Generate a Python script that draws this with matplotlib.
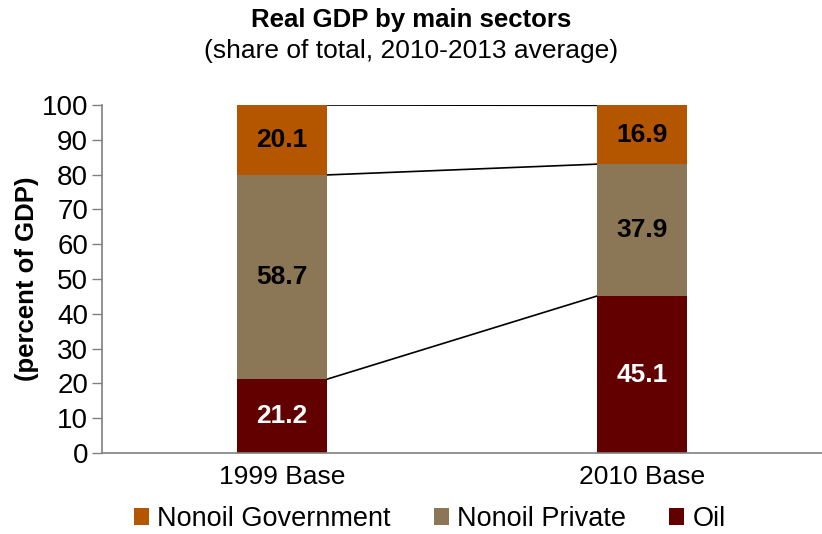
import matplotlib
matplotlib.use("Agg")
from matplotlib import pyplot as plt
import numpy as np

plt.rcParams["font.family"] = ["Liberation Sans", "DejaVu Sans"]

categories = ["1999 Base", "2010 Base"]
oil = [21.2, 45.1]
nonoil_private = [58.7, 37.9]
nonoil_government = [20.1, 16.9]

series = [
    ("Oil", oil, "#620000", "white"),
    ("Nonoil Private", nonoil_private, "#8B7655", "black"),
    ("Nonoil Government", nonoil_government, "#B45500", "black"),
]

fig = plt.figure(figsize=(8.22, 5.34), dpi=100)
ax = fig.add_axes([0.124, 0.1517, 0.876, 0.6517])

x = np.arange(len(categories))
width = 0.25
bottom = np.zeros(len(categories))
handles = {}
tops = []
for name, vals, color, txt in series:
    vals = np.array(vals)
    bars = ax.bar(x, vals, width, bottom=bottom, color=color, label=name, zorder=2)
    handles[name] = bars
    for xi, b, v in zip(x, bottom, vals):
        ax.text(xi, b + v / 2, f"{v:.1f}", ha="center", va="center",
                fontsize=19, fontweight="bold", color=txt, zorder=3)
    bottom = bottom + vals
    tops.append(bottom.copy())

# series lines joining segment tops between the two bars
for t in tops:
    ax.plot([x[0] + width / 2, x[1] - width / 2], [t[0], t[1]],
            color="black", lw=1.2, zorder=1)

ax.set_xlim(-0.5, 1.5)
ax.set_ylim(0, 100)
ax.set_yticks(range(0, 101, 10))
ax.set_xticks(x)
ax.set_xticklabels(categories)
ax.tick_params(axis="y", labelsize=20, length=7, width=1, color="#808080", pad=3)
ax.tick_params(axis="x", labelsize=19, length=0, pad=9)
for side in ["top", "right"]:
    ax.spines[side].set_visible(False)
for side in ["left", "bottom"]:
    ax.spines[side].set_color("#808080")
    ax.spines[side].set_linewidth(1.2)

ax.set_ylabel("(percent of GDP)", fontsize=18.5, fontweight="bold", labelpad=2)

fig.text(0.5, 0.962, "Real GDP by main sectors", ha="center", va="center",
         fontsize=18.5, fontweight="bold")
fig.text(0.5, 0.905, "(share of total, 2010-2013 average)", ha="center",
         va="center", fontsize=19)

order = ["Nonoil Government", "Nonoil Private", "Oil"]
fig.legend([handles[n] for n in order], order, loc="center", ncol=3,
           bbox_to_anchor=(0.523, 0.028), frameon=False, fontsize=19.5,
           handlelength=0.55, handleheight=0.55, handletextpad=0.3,
           columnspacing=1.6, borderpad=0)

fig.savefig("out.png", dpi=100)
